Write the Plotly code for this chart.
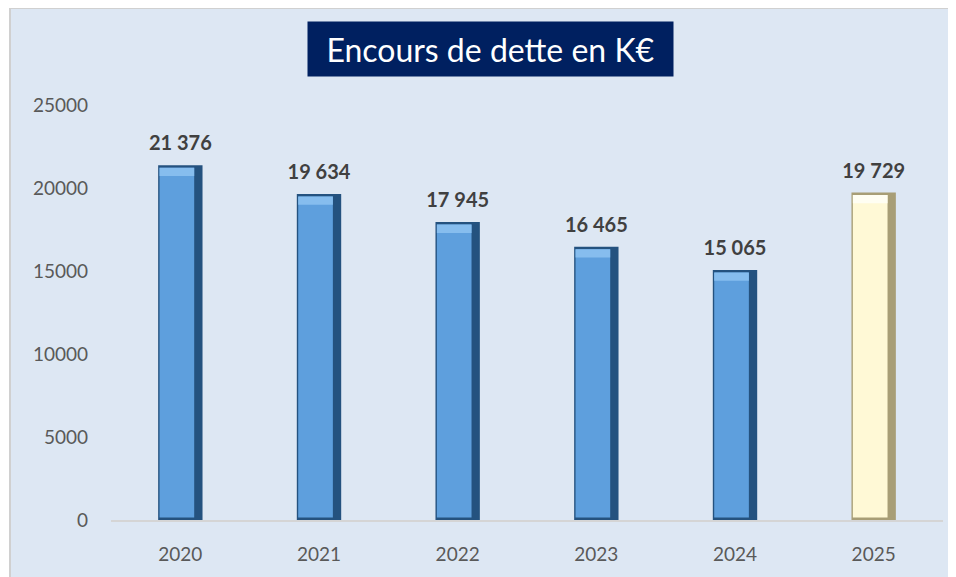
import plotly.graph_objects as go

years = ["2020", "2021", "2022", "2023", "2024", "2025"]
values = [21376, 19634, 17945, 16465, 15065, 19729]
y_ticks = [0, 5000, 10000, 15000, 20000, 25000]
title_text = "Encours de dette en K€"

BG = "#DDE7F3"
edge_colors = ["#24527F"] * 5 + ["#A89E76"]
face_colors = ["#5E9FDD"] * 5 + ["#FFF9D6"]
top_colors = ["#86BDEE"] * 5 + ["#FFFEF2"]

labels = [f"{v:,}".replace(",", " ") for v in values]
FONT = "Lato, Open Sans, sans-serif"

fig = go.Figure()
# outer (dark edge) bar
fig.add_trace(go.Bar(
    x=years, y=values, width=0.32, marker=dict(color=edge_colors, line=dict(width=0)),
    hoverinfo="skip", showlegend=False,
))
# inner face bar
fig.add_trace(go.Bar(
    x=years, y=[v - 300 for v in values], base=150,
    width=0.25, offset=-0.15, marker=dict(color=face_colors, line=dict(width=0)),
    hoverinfo="skip", showlegend=False,
))
# top bevel highlight
fig.add_trace(go.Bar(
    x=years, y=[500] * len(values), base=[v - 650 for v in values],
    width=0.25, offset=-0.15, marker=dict(color=top_colors, line=dict(width=0)),
    hoverinfo="skip", showlegend=False,
))
# value labels
fig.add_trace(go.Scatter(
    x=years, y=values, mode="markers+text", text=[f"<b>{l}</b>" for l in labels],
    textposition="top center", marker=dict(size=14, color="rgba(0,0,0,0)"),
    textfont=dict(family=FONT, size=20, color="#404040"),
    hoverinfo="skip", showlegend=False, cliponaxis=False,
))

fig.add_annotation(
    xref="paper", yref="paper", x=0.456, y=1.135, text=title_text, showarrow=False,
    bgcolor="#002060", font=dict(family=FONT, size=32, color="white"),
    width=357, height=46, borderpad=4, xanchor="center", yanchor="middle",
)

# chart-area background with gray border
fig.add_shape(type="rect", xref="paper", yref="paper", x0=-0.1214, x1=1.05, y0=-0.2, y1=1.234,
              fillcolor=BG, line=dict(color="#D0D0D0", width=2), layer="below")

fig.update_layout(
    width=948, height=569,
    margin=dict(l=103, r=13, t=97, b=57),
    paper_bgcolor="white", plot_bgcolor=BG,
    barmode="overlay",
    font=dict(family=FONT, size=19, color="#595959"),
    xaxis=dict(type="category", showgrid=False, showline=True, linecolor="#D5D5D5", linewidth=2,
               ticks="", ticklabelstandoff=16, zeroline=False),
    yaxis=dict(range=[0, 25000], tickvals=y_ticks, tickformat="d", showgrid=False, zeroline=False,
               showline=False, ticks="", ticklabelstandoff=22),
)

fig.write_html("out.html")
